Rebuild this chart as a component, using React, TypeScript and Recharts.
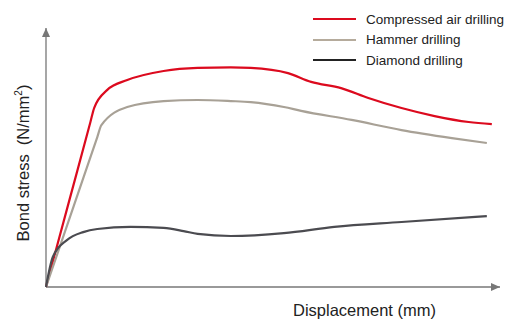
import { LineChart, Line, XAxis, YAxis, ReferenceLine } from "recharts";

// displacement / bond stress (arbitrary units, 0-100)
const compressedX = [0, 5.3, 9.8, 10.6, 13.5, 17.9, 25.9, 33.4, 40.7, 45.1, 53.3, 58.4, 65.0, 71.0, 78.3, 85.6, 93.1, 98.2];
const compressedY = [0, 34.5, 63.8, 69.1, 76.1, 79.9, 83.4, 84.6, 84.8, 84.6, 82.6, 79.2, 76.8, 73.0, 69.1, 66.0, 63.7, 62.9];

const hammerX = [0, 6.1, 11.3, 12.2, 17.9, 25.9, 33.4, 40.7, 45.1, 52.4, 56.2, 67.3, 78.3, 89.4, 97.1];
const hammerY = [0, 31.2, 57.9, 62.5, 69.5, 71.8, 72.2, 71.8, 71.4, 69.5, 68.0, 64.5, 60.6, 57.5, 55.6];

const diamondX = [0, 1.5, 4.6, 8.2, 11.3, 18.6, 25.9, 30.3, 33.4, 40.7, 52.4, 63.5, 78.3, 97.1];
const diamondY = [0, 11.6, 18.1, 21.2, 22.4, 23.2, 22.8, 21.6, 20.5, 19.7, 20.8, 23.2, 25.1, 27.4];

const SERIES = [
  { name: "Compressed air drilling", xs: compressedX, ys: compressedY, color: "#dc0a1e", legend: "#dc0a1e" },
  { name: "Hammer drilling", xs: hammerX, ys: hammerY, color: "#a8a196", legend: "#b5ab9c" },
  { name: "Diamond drilling", xs: diamondX, ys: diamondY, color: "#4b4b50", legend: "#222" },
];

const toPoints = (xs: number[], ys: number[]) => xs.map((x, i) => ({ x, y: ys[i] }));

const AXIS = "#777";
const FONT = "'Liberation Sans', Arial, sans-serif";

function Arrow(props: any) {
  const { x1, y1, x2, y2, horizontal } = props;
  if (x1 == null) return null;
  const head = horizontal
    ? `${x2},${y2} ${x2 - 9},${y2 - 4} ${x2 - 9},${y2 + 4}`
    : `${x2},${y2} ${x2 - 4},${y2 + 9} ${x2 + 4},${y2 + 9}`;
  return (
    <g>
      <line x1={x1} y1={y1} x2={x2} y2={y2} stroke={AXIS} strokeWidth={1.3} />
      <polygon points={head} fill={AXIS} />
    </g>
  );
}

function LegendBox() {
  return (
    <div style={{ position: "absolute", left: 313, top: 9, fontSize: 13.5, color: "#222" }}>
      {SERIES.map((s) => (
        <div key={s.name} style={{ display: "flex", alignItems: "center", height: 20.5, whiteSpace: "nowrap" }}>
          <span style={{ display: "inline-block", width: 43, height: 2, background: s.legend, marginRight: 10 }} />
          {s.name}
        </div>
      ))}
    </div>
  );
}

export default function App() {
  return (
    <div style={{ position: "absolute", left: 0, top: 0, width: 511, height: 320, background: "#fff", fontFamily: FONT }}>
      <LineChart width={511} height={320} margin={{ top: 28, right: 11, bottom: 33, left: 46 }}>
        <XAxis type="number" dataKey="x" domain={[0, 100]} hide allowDuplicatedCategory={false} />
        <YAxis type="number" dataKey="y" domain={[0, 100]} hide />
        <ReferenceLine
          segment={[{ x: 0, y: 0 }, { x: 100, y: 0 }]}
          ifOverflow="visible"
          shape={(p: any) => <Arrow {...p} horizontal />}
        />
        <ReferenceLine
          segment={[{ x: 0, y: 0 }, { x: 0, y: 100 }]}
          ifOverflow="visible"
          shape={(p: any) => <Arrow {...p} />}
        />
        {SERIES.map((s) => (
          <Line
            key={s.name}
            name={s.name}
            data={toPoints(s.xs, s.ys)}
            dataKey="y"
            type="monotone"
            stroke={s.color}
            strokeWidth={2.2}
            dot={false}
            isAnimationActive={false}
          />
        ))}
      </LineChart>
      <LegendBox />
      <div
        style={{
          position: "absolute",
          left: 23,
          top: 163,
          transform: "translate(-50%, -50%) rotate(-90deg)",
          whiteSpace: "nowrap",
          fontSize: 16.5,
          color: "#222",
        }}
      >
        Bond stress&nbsp;&nbsp;(N/mm<sup style={{ fontSize: 10 }}>2</sup>)
      </div>
      <div
        style={{
          position: "absolute",
          left: 293,
          top: 310,
          transform: "translateY(-50%)",
          fontSize: 16.5,
          color: "#222",
          whiteSpace: "nowrap",
        }}
      >
        Displacement (mm)
      </div>
    </div>
  );
}
